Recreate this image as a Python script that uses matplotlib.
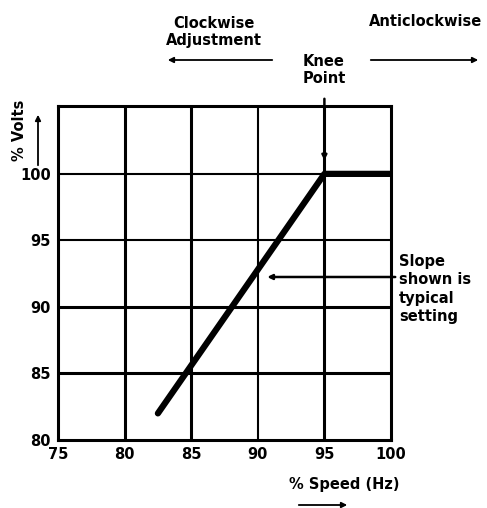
import matplotlib.pyplot as plt
import matplotlib.transforms as mtransforms

plt.rcParams['font.family'] = ['DejaVu Sans']
plt.rcParams['font.weight'] = 'bold'

# typical volts/hz curve
speed = [82.5, 95, 100]
volts = [82.0, 100, 100]
xticks = [75, 80, 85, 90, 95, 100]
yticks = [80, 85, 90, 95, 100]

W, H = 487, 508
fig = plt.figure(figsize=(W / 100, H / 100), dpi=100)
ax = fig.add_axes([58 / W, 1 - 440 / H, 333 / W, 334 / H])
ax.set_xlim(75, 100)
ax.set_ylim(80, 105.1)

# grid
vgrid = {80: 2.2, 85: 2.2, 90: 1.5, 95: 2.2}
hgrid = {85: 2.2, 90: 2.2, 95: 1.5, 100: 1.5}
for x, lw in vgrid.items():
    ax.axvline(x, color='black', lw=lw, zorder=1)
for y, lw in hgrid.items():
    ax.axhline(y, color='black', lw=lw, zorder=1)

ax.plot(speed, volts, color='black', lw=4.5, solid_capstyle='round', zorder=3)

for s in ax.spines.values():
    s.set_linewidth(2.2)
ax.set_xticks(xticks)
ax.set_yticks(yticks)
ax.tick_params(length=0, labelsize=10.5, pad=5)
for lab in ax.get_xticklabels() + ax.get_yticklabels():
    lab.set_fontweight('bold')

def fx(px):
    return px / W

def fy(py):
    return 1 - py / H

FS = 10.5
arrow = dict(arrowstyle='-|>', color='black', lw=1.3, mutation_scale=8)

# top annotations
fig.text(fx(214), fy(32), 'Clockwise\nAdjustment', ha='center', va='center',
         fontsize=FS, linespacing=1.25)
ax.annotate('', xy=(fx(165), fy(60)), xycoords='figure fraction',
            xytext=(fx(275), fy(60)), textcoords='figure fraction', arrowprops=arrow)
fig.text(fx(426), fy(21), 'Anticlockwise', ha='center', va='center', fontsize=FS)
ax.annotate('', xy=(fx(481), fy(60)), xycoords='figure fraction',
            xytext=(fx(368), fy(60)), textcoords='figure fraction', arrowprops=arrow)
fig.text(fx(324), fy(70), 'Knee\nPoint', ha='center', va='center',
         fontsize=FS, linespacing=1.2)
knee_tr = mtransforms.blended_transform_factory(ax.transData, fig.transFigure)
ax.annotate('', xy=(95, 100.8), xycoords='data',
            xytext=(95, fy(96)), textcoords=knee_tr,
            arrowprops=dict(arrowstyle='-|>', color='black', lw=1.8, mutation_scale=7),
            annotation_clip=False)

# slope note
fig.text(fx(399), fy(289), 'Slope\nshown is\ntypical\nsetting', ha='left', va='center',
         fontsize=FS, linespacing=1.3)
ax.annotate('', xy=(90.5, 92.25), xycoords='data',
            xytext=(fx(398), fy(277)), textcoords='figure fraction',
            arrowprops=dict(arrowstyle='-|>', color='black', lw=1.8, mutation_scale=7),
            annotation_clip=False)

# axis labels with arrows
fig.text(fx(19), fy(130), '% Volts', rotation=90, ha='center', va='center', fontsize=FS)
ax.annotate('', xy=(fx(38), fy(112)), xycoords='figure fraction',
            xytext=(fx(38), fy(168)), textcoords='figure fraction', arrowprops=arrow)
fig.text(fx(344), fy(484), '% Speed (Hz)', ha='center', va='center', fontsize=FS)
ax.annotate('', xy=(fx(350), fy(505)), xycoords='figure fraction',
            xytext=(fx(296), fy(505)), textcoords='figure fraction', arrowprops=arrow)

fig.savefig('out.png', dpi=100)
